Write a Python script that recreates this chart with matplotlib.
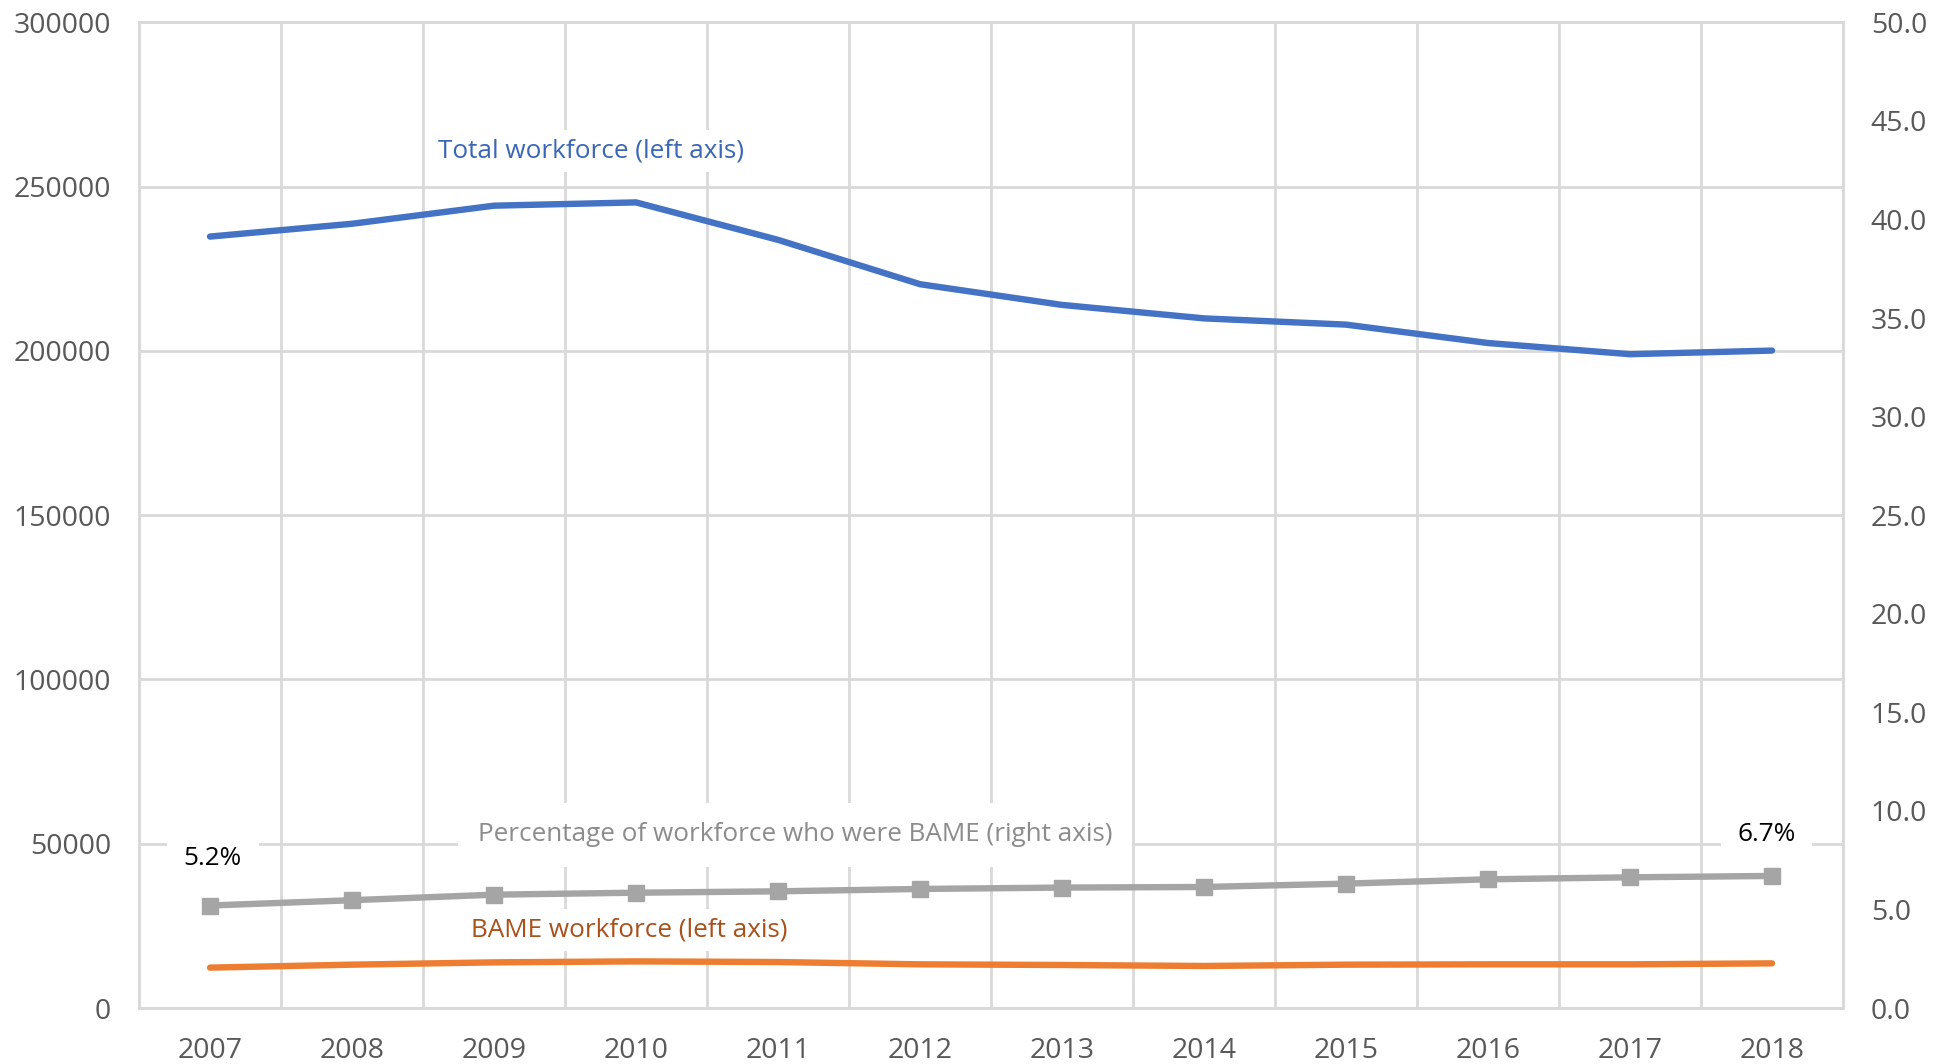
import matplotlib
matplotlib.use("Agg")
import matplotlib.pyplot as plt
from matplotlib.ticker import FormatStrFormatter, MultipleLocator


years = ["2007", "2008", "2009", "2010", "2011", "2012",
         "2013", "2014", "2015", "2016", "2017", "2018"]
total_workforce = [234800, 238700, 244200, 245200, 233800, 220300,
                   214000, 209900, 208000, 202400, 199000, 200100]
bame_workforce = [12300, 13200, 13900, 14200, 14000, 13300,
                  13100, 12800, 13200, 13300, 13300, 13600]
bame_pct = [5.2, 5.47, 5.75, 5.85, 5.92, 6.04,
            6.11, 6.14, 6.31, 6.53, 6.63, 6.7]

GRID = "#d9d9d9"
TICK = "#595959"
BLUE = "#4472c4"
ORANGE = "#ed7d31"
GRAY = "#a5a5a5"

plt.rcParams["font.family"] = ["Open Sans", "DejaVu Sans"]


def main():
    fig = plt.figure(figsize=(19.39, 10.64), dpi=100)
    ax = fig.add_axes([0.0717, 0.0526, 0.8788, 0.9264])
    ax2 = ax.twinx()

    x = list(range(len(years)))

    ax.plot(x, total_workforce, color=BLUE, linewidth=4.6, solid_capstyle="round", zorder=4)
    ax.plot(x, bame_workforce, color=ORANGE, linewidth=4.6, solid_capstyle="round", zorder=4)
    ax2.plot(x, bame_pct, color=GRAY, linewidth=4.6, marker="s", markersize=11, zorder=4)

    ax.set_xlim(-0.5, len(years) - 0.5)
    ax.set_ylim(0, 300000)
    ax2.set_ylim(0, 50)

    ax.set_xticks(x)
    ax.set_xticklabels(years)
    ax.set_xticks([i - 0.5 for i in range(len(years) + 1)], minor=True)
    ax.yaxis.set_major_locator(MultipleLocator(50000))
    ax2.yaxis.set_major_locator(MultipleLocator(5))
    ax2.yaxis.set_major_formatter(FormatStrFormatter("%.1f"))

    ax.set_axisbelow(True)
    ax.grid(True, axis="y", which="major", color=GRID, linewidth=2)
    ax.grid(True, axis="x", which="minor", color=GRID, linewidth=2)
    ax.grid(False, axis="x", which="major")

    for a in (ax, ax2):
        for spine in a.spines.values():
            spine.set_color(GRID)
            spine.set_linewidth(2)
        a.tick_params(which="both", length=0, labelsize=20.5, labelcolor=TICK)
    ax.tick_params(axis="y", pad=20)
    ax.tick_params(axis="x", pad=21)
    ax2.tick_params(axis="y", pad=20)

    box = dict(facecolor="white", edgecolor="none", pad=6)
    ax.text(2.68, 260900, "Total workforce (left axis)", color="#3a66b8",
            fontsize=18.8, ha="center", va="center", bbox=box, zorder=3)
    ax.text(4.12, 52700, "Percentage of workforce who were BAME (right axis)",
            color="#8c8c8c", fontsize=18.8, ha="center", va="center",
            bbox=dict(facecolor="white", edgecolor="none", pad=14), zorder=3)
    ax.text(2.95, 23800, "BAME workforce (left axis)", color="#a8511b",
            fontsize=18.8, ha="center", va="center", bbox=box, zorder=3)
    ax.text(0.02, 45400, f"{bame_pct[0]:.1f}%", color="black", fontsize=18.8,
            ha="center", va="center", bbox=dict(facecolor="white", edgecolor="none", pad=12), zorder=3)
    ax.text(10.96, 52700, f"{bame_pct[-1]:.1f}%", color="black", fontsize=18.8,
            ha="center", va="center", bbox=dict(facecolor="white", edgecolor="none", pad=12), zorder=3)

    fig.savefig("out.png", dpi=100, facecolor="white")
    plt.close(fig)


if __name__ == "__main__":
    main()
